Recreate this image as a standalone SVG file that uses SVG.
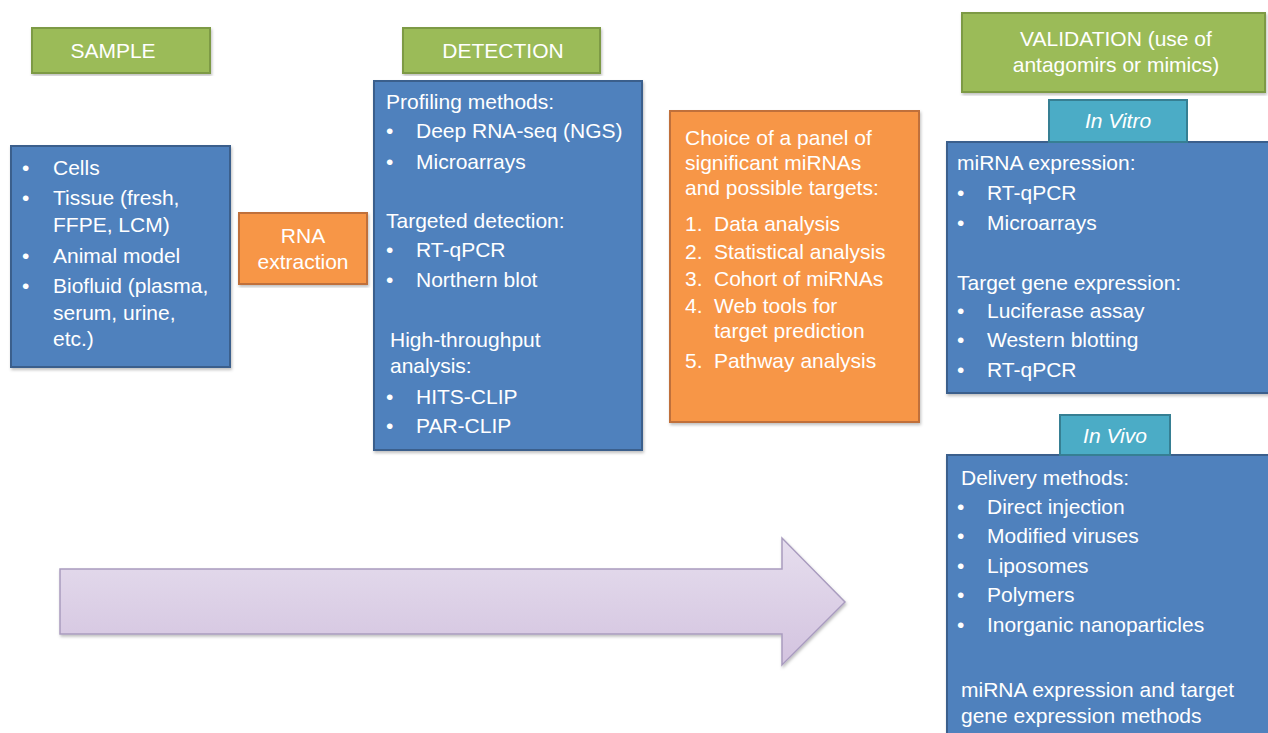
<svg xmlns="http://www.w3.org/2000/svg" width="1268" height="733" viewBox="0 0 1268 733">
  <defs>
    <linearGradient id="arrowFill" x1="0" y1="0" x2="0" y2="1">
      <stop offset="0" stop-color="#e6deee"/>
      <stop offset="1" stop-color="#d3c3df"/>
    </linearGradient>
    <filter id="shadow" x="-5%" y="-5%" width="110%" height="110%">
      <feDropShadow dx="1" dy="2" stdDeviation="1.5" flood-color="#000" flood-opacity="0.25"/>
    </filter>
  </defs>
  <style>
    text { font-family: "Liberation Sans", Arial, sans-serif; font-size: 21px; fill: #ffffff; }
    .mid { text-anchor: middle; }
    .it { font-style: italic; }
    .green { fill: #9bbb59; stroke: #7d9a44; stroke-width: 2; }
    .blue { fill: #4f81bd; stroke: #3a5f8c; stroke-width: 2; }
    .orange { fill: #f79646; stroke: #c0703a; stroke-width: 2; }
    .teal { fill: #4bacc6; stroke: #367f93; stroke-width: 2; }
    .box { filter: url(#shadow); }
  </style>

  <rect width="1268" height="733" fill="#ffffff"/>

  <!-- Process flow arrow -->
  <g id="connectors">
    <path d="M60,569 L782,569 L782,538 L845,602 L782,665 L782,634 L60,634 Z" fill="url(#arrowFill)" stroke="#a99cbf" stroke-width="1.5" class="box"/>
  </g>

  <!-- Sample header -->
  <g id="sample-header">
    <rect class="green box" x="32" y="28" width="178" height="45"/>
    <text class="mid" x="113" y="58">SAMPLE</text>
  </g>

  <!-- Sample types -->
  <g id="sample-list">
    <rect class="blue box" x="11" y="146" width="219" height="221"/>
    <text x="22" y="175">•</text><text x="53" y="175">Cells</text>
    <text x="22" y="205">•</text><text x="53" y="205">Tissue (fresh,</text>
    <text x="53" y="232">FFPE, LCM)</text>
    <text x="22" y="263">•</text><text x="53" y="263">Animal model</text>
    <text x="22" y="293">•</text><text x="53" y="293">Biofluid (plasma,</text>
    <text x="53" y="320">serum, urine,</text>
    <text x="53" y="346">etc.)</text>
  </g>

  <!-- RNA extraction step -->
  <g id="rna-extraction">
    <rect class="orange box" x="239" y="213" width="128" height="71"/>
    <text class="mid" x="303" y="243">RNA</text>
    <text class="mid" x="303" y="269">extraction</text>
  </g>

  <!-- Detection header -->
  <g id="detection-header">
    <rect class="green box" x="403" y="28" width="197" height="45"/>
    <text class="mid" x="503" y="58">DETECTION</text>
  </g>

  <!-- Detection methods -->
  <g id="detection-list">
    <rect class="blue box" x="374" y="81" width="268" height="369"/>
    <text x="386" y="109">Profiling methods:</text>
    <text x="386" y="138">•</text><text x="416" y="138">Deep RNA-seq (NGS)</text>
    <text x="386" y="169">•</text><text x="416" y="169">Microarrays</text>
    <text x="386" y="228">Targeted detection:</text>
    <text x="386" y="257">•</text><text x="416" y="257">RT-qPCR</text>
    <text x="386" y="287">•</text><text x="416" y="287">Northern blot</text>
    <text x="390" y="347">High-throughput</text>
    <text x="390" y="373">analysis:</text>
    <text x="386" y="404">•</text><text x="416" y="404">HITS-CLIP</text>
    <text x="386" y="433">•</text><text x="416" y="433">PAR-CLIP</text>
  </g>

  <!-- Selection / analysis step -->
  <g id="analysis">
    <rect class="orange box" x="670" y="111" width="249" height="311"/>
    <text x="685" y="145">Choice of a panel of</text>
    <text x="685" y="170">significant miRNAs</text>
    <text x="685" y="195">and possible targets:</text>
    <text x="685" y="231">1.</text><text x="714" y="231">Data analysis</text>
    <text x="685" y="259">2.</text><text x="714" y="259">Statistical analysis</text>
    <text x="685" y="286">3.</text><text x="714" y="286">Cohort of miRNAs</text>
    <text x="685" y="313">4.</text><text x="714" y="313">Web tools for</text>
    <text x="714" y="338">target prediction</text>
    <text x="685" y="368">5.</text><text x="714" y="368">Pathway analysis</text>
  </g>

  <!-- Validation header -->
  <g id="validation-header">
    <rect class="green box" x="962" y="13" width="303" height="79"/>
    <text class="mid" x="1116" y="46">VALIDATION (use of</text>
    <text class="mid" x="1116" y="72">antagomirs or mimics)</text>
  </g>

  <!-- In vitro validation -->
  <g id="in-vitro">
    <rect class="blue box" x="947" y="142" width="325" height="251"/>
    <rect class="teal" x="1049" y="100" width="138" height="42"/>
    <text class="mid it" x="1118" y="128">In Vitro</text>
    <text x="957" y="170">miRNA expression:</text>
    <text x="957" y="200">•</text><text x="987" y="200">RT-qPCR</text>
    <text x="957" y="230">•</text><text x="987" y="230">Microarrays</text>
    <text x="957" y="290">Target gene expression:</text>
    <text x="957" y="318">•</text><text x="987" y="318">Luciferase assay</text>
    <text x="957" y="347">•</text><text x="987" y="347">Western blotting</text>
    <text x="957" y="377">•</text><text x="987" y="377">RT-qPCR</text>
  </g>

  <!-- In vivo validation -->
  <g id="in-vivo">
    <rect class="blue box" x="947" y="455" width="325" height="290"/>
    <rect class="teal" x="1060" y="415" width="110" height="40"/>
    <text class="mid it" x="1115" y="443">In Vivo</text>
    <text x="961" y="485">Delivery methods:</text>
    <text x="957" y="514">•</text><text x="987" y="514">Direct injection</text>
    <text x="957" y="543">•</text><text x="987" y="543">Modified viruses</text>
    <text x="957" y="573">•</text><text x="987" y="573">Liposomes</text>
    <text x="957" y="602">•</text><text x="987" y="602">Polymers</text>
    <text x="957" y="632">•</text><text x="987" y="632">Inorganic nanoparticles</text>
    <text x="961" y="697">miRNA expression and target</text>
    <text x="961" y="723">gene expression methods</text>
  </g>
</svg>
